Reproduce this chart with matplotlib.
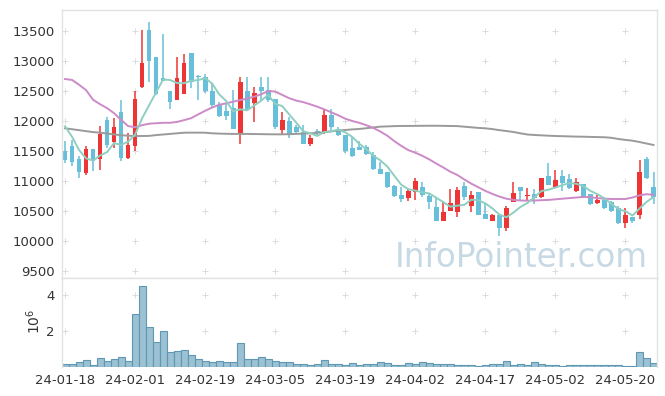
import numpy as np
import matplotlib.pyplot as plt

# daily OHLC (KRW)
opens = [11510, 11590, 11370, 11140, 11540, 11380, 12030, 11650, 12150, 11390,
         11590, 12580, 13520, 13070, 12730, 12500, 12360, 12460, 13140, 12760,
         12740, 12510, 12280, 12170, 12220, 11800, 12510, 12310, 12580, 12530,
         12370, 11860, 12010, 11900, 11830, 11620, 11840, 11810, 12100, 11870,
         11770, 11550, 11570, 11570, 11440, 11210, 11150, 10920, 10770, 10720,
         10820, 10910, 10760, 10570, 10330, 10510, 10480, 10920, 10580, 10820,
         10460, 10330, 10440, 10220, 10660, 10910, 10760, 10780, 10730, 11090,
         10910, 11090, 11040, 10830, 10950, 10780, 10640, 10690, 10650, 10550,
         10310, 10410, 10440, 11380, 10900]
highs = [11680, 11690, 11420, 11590, 11540, 11930, 12070, 12060, 12350, 11800,
         12500, 13530, 13650, 13070, 13450, 12510, 13070, 13130, 13140, 12780,
         12790, 12630, 12330, 12300, 12520, 12740, 12740, 12570, 12740, 12740,
         12380, 12160, 12080, 11940, 11940, 11770, 11880, 12200, 12200, 11910,
         11770, 11740, 11680, 11610, 11490, 11330, 11160, 10940, 10910, 10870,
         11060, 10990, 10800, 10730, 10670, 10870, 10900, 10990, 10840, 10820,
         10630, 10460, 10440, 10580, 10990, 10910, 10890, 10870, 11050, 11300,
         11190, 11190, 11120, 11050, 10950, 10780, 10770, 10740, 10670, 10580,
         10550, 10410, 11360, 11400, 11160]
lows = [11310, 11250, 11060, 11100, 11170, 11190, 11560, 11560, 11340, 11380,
        11500, 12560, 12660, 12440, 12670, 12200, 12360, 12460, 12560, 12350,
        12480, 12240, 12080, 12020, 11880, 11630, 12190, 11990, 12360, 12330,
        11880, 11770, 11720, 11800, 11630, 11590, 11770, 11790, 11860, 11760,
        11470, 11410, 11520, 11440, 11190, 11130, 10880, 10740, 10660, 10670,
        10680, 10730, 10530, 10330, 10330, 10510, 10410, 10690, 10490, 10430,
        10370, 10330, 10090, 10170, 10660, 10690, 10690, 10620, 10720, 10930,
        10900, 10830, 10870, 10820, 10720, 10600, 10620, 10540, 10480, 10280,
        10220, 10300, 10370, 11030, 10620]
closes = [11360, 11330, 11150, 11540, 11340, 11790, 11610, 11910, 11390, 11610,
          12370, 12970, 13000, 12460, 12680, 12330, 12720, 12980, 12660, 12740,
          12500, 12270, 12090, 12090, 11880, 12650, 12200, 12480, 12510, 12360,
          11900, 12020, 11790, 11830, 11630, 11730, 11800, 12110, 11900, 11770,
          11500, 11420, 11530, 11460, 11200, 11130, 10910, 10760, 10700, 10840,
          11010, 10770, 10660, 10340, 10480, 10630, 10860, 10730, 10770, 10430,
          10370, 10440, 10220, 10550, 10810, 10840, 10770, 10720, 11050, 10930,
          11020, 10970, 10890, 10980, 10730, 10620, 10690, 10560, 10500, 10310,
          10440, 10330, 11150, 11050, 10730]
# volume in millions of shares
volumes = [0.19, 0.19, 0.30, 0.43, 0.14, 0.52, 0.37, 0.46, 0.57, 0.37,
           2.95, 4.45, 2.25, 1.40, 2.03, 0.86, 0.91, 0.96, 0.70, 0.48,
           0.37, 0.32, 0.37, 0.32, 0.32, 1.35, 0.48, 0.48, 0.59, 0.48,
           0.37, 0.32, 0.32, 0.20, 0.20, 0.14, 0.20, 0.43, 0.20, 0.20,
           0.14, 0.25, 0.14, 0.20, 0.20, 0.30, 0.25, 0.14, 0.14, 0.25,
           0.20, 0.30, 0.25, 0.20, 0.20, 0.20, 0.14, 0.14, 0.14, 0.09,
           0.14, 0.20, 0.20, 0.37, 0.14, 0.20, 0.14, 0.30, 0.20, 0.14,
           0.14, 0.09, 0.14, 0.14, 0.14, 0.14, 0.14, 0.14, 0.14, 0.14,
           0.09, 0.09, 0.84, 0.52, 0.25]
# moving averages as drawn
ma5 = [11917, 11743, 11522, 11383, 11345, 11430, 11486, 11637, 11607, 11660,
       11777, 12049, 12268, 12482, 12696, 12688, 12638, 12635, 12676, 12687,
       12719, 12629, 12451, 12338, 12168, 12199, 12184, 12262, 12345, 12440,
       12290, 12254, 12115, 11979, 11834, 11801, 11756, 11820, 11834, 11862,
       11816, 11741, 11626, 11537, 11424, 11350, 11247, 11092, 10942, 10869,
       10844, 10816, 10798, 10725, 10653, 10577, 10594, 10608, 10694, 10684,
       10632, 10549, 10445, 10401, 10478, 10572, 10638, 10737, 10837, 10861,
       10896, 10936, 10972, 10958, 10920, 10840, 10784, 10717, 10622, 10537,
       10501, 10428, 10546, 10655, 10740]
ma20 = [12705, 12690, 12610, 12520, 12360, 12285, 12220, 12135, 12025, 11920,
        11902, 11935, 11960, 11968, 11975, 11975, 11990, 12020, 12052, 12115,
        12175, 12230, 12275, 12300, 12327, 12355, 12377, 12411, 12450, 12505,
        12495, 12440, 12385, 12345, 12320, 12283, 12244, 12200, 12150, 12100,
        12044, 12005, 11975, 11935, 11890, 11830, 11760, 11670, 11590, 11520,
        11477, 11425, 11365, 11295, 11230, 11160, 11105, 11030, 10960, 10900,
        10840, 10790, 10745, 10710, 10690, 10680, 10677, 10680, 10685, 10690,
        10700, 10710, 10720, 10730, 10740, 10735, 10720, 10710, 10705, 10705,
        10705, 10730, 10765, 10785, 10775]
ma60 = [11883, 11868, 11852, 11836, 11820, 11811, 11796, 11782, 11768, 11760,
        11755, 11755, 11757, 11770, 11780, 11790, 11800, 11810, 11811, 11811,
        11810, 11800, 11795, 11792, 11790, 11790, 11790, 11788, 11786, 11784,
        11783, 11783, 11785, 11790, 11795, 11800, 11808, 11818, 11832, 11845,
        11855, 11865, 11872, 11885, 11898, 11911, 11915, 11920, 11922, 11923,
        11924, 11925, 11926, 11926, 11924, 11922, 11920, 11910, 11900, 11890,
        11883, 11870, 11853, 11838, 11822, 11800, 11780, 11772, 11766, 11760,
        11755, 11752, 11748, 11745, 11743, 11740, 11737, 11734, 11725, 11705,
        11690, 11677, 11655, 11630, 11605]
date_labels = ['24-01-18', '24-02-01', '24-02-19', '24-03-05', '24-03-19',
               '24-04-02', '24-04-17', '24-05-02', '24-05-20']

o = np.array(opens)
c = np.array(closes)
x = np.arange(len(c))
up = c >= o
cols = np.where(up, '#ee3535', '#68bfd9')

fig = plt.figure(figsize=(6.65, 3.96), dpi=100)
ax = fig.add_axes([0.0925, 0.2972, 0.8955, 0.6775])
axv = fig.add_axes([0.0925, 0.072, 0.8955, 0.2252], sharex=ax)

# candles
ax.vlines(x, lows, highs, colors=cols, lw=1.1, zorder=2)
body = np.maximum(np.abs(c - o), 18)
ax.bar(x, body, bottom=np.minimum(o, c), width=0.68, color=cols, zorder=2)

ax.plot(x, ma60, color='#9a9a9a', lw=1.4, zorder=3)
ax.plot(x, ma20, color='#cc8ac6', lw=1.4, zorder=3)
ax.plot(x, ma5, color='#8fcfc1', lw=1.4, zorder=3)

ax.set_ylim(9383, 13855)
ax.set_xlim(-0.5, 84.5)
yt = np.arange(9500, 14000, 500)
ax.set_yticks(yt)

axv.bar(x, volumes, width=1.0, color='#9bc1d2', edgecolor='#5f98b2', lw=0.8, zorder=2)
axv.set_ylim(0, 4.9)
axv.set_yticks([2, 4])
axv.set_yticklabels(['2', '4'])
xt = np.arange(0, 81, 10)
axv.set_xticks(xt)
axv.set_xticklabels(date_labels)
axv.text(-0.047, 0.52, '$10^6$', transform=axv.transAxes, rotation=90,
         ha='center', va='center', fontsize=10, color='#333333')

# '+' markers at grid crossings
gx, gy = np.meshgrid(xt, yt)
ax.scatter(gx.ravel(), gy.ravel(), marker='+', s=14, lw=0.7, color='#dcdcdc', zorder=1)
gx, gy = np.meshgrid(xt, [2, 4])
axv.scatter(gx.ravel(), gy.ravel(), marker='+', s=14, lw=0.7, color='#dcdcdc', zorder=1)

for a in (ax, axv):
    a.tick_params(length=0, labelsize=9.5, colors='#333333', pad=5)
    for s in a.spines.values():
        s.set_color('#e2e2e2')
        s.set_linewidth(1.0)
axv.spines['bottom'].set_visible(False)
plt.setp(ax.get_xticklabels(), visible=False)

ax.text(0.985, 0.042, 'InfoPointer.com', transform=ax.transAxes, ha='right',
        va='baseline', fontsize=23.5, color='#c6d9e5', zorder=0)

fig.savefig('out.png', dpi=100)
